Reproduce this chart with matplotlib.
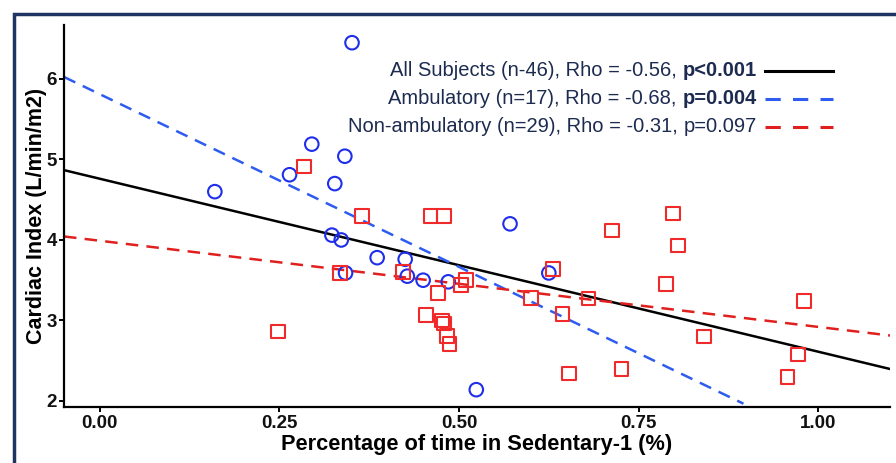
import numpy as np
import matplotlib
matplotlib.use("Agg")
import matplotlib.pyplot as plt
from matplotlib.patches import Rectangle
from matplotlib.lines import Line2D
from matplotlib.offsetbox import TextArea, HPacker, VPacker, DrawingArea, AnchoredOffsetbox

# ambulatory subjects (blue circles)
amb_x = [0.351, 0.295, 0.341, 0.264, 0.327, 0.160, 0.323, 0.336, 0.571, 0.386,
         0.425, 0.342, 0.428, 0.450, 0.485, 0.625, 0.524]
amb_y = [6.45, 5.19, 5.04, 4.81, 4.70, 4.60, 4.06, 4.00, 4.20, 3.78,
         3.76, 3.59, 3.55, 3.50, 3.48, 3.59, 2.14]

# non-ambulatory subjects (red squares)
non_x = [0.284, 0.365, 0.460, 0.479, 0.248, 0.334, 0.422, 0.510, 0.503, 0.471,
         0.454, 0.476, 0.479, 0.483, 0.487, 0.631, 0.600, 0.680, 0.644, 0.653,
         0.713, 0.798, 0.805, 0.788, 0.841, 0.726, 0.980, 0.972, 0.957]
non_y = [4.91, 4.30, 4.30, 4.30, 2.86, 3.59, 3.60, 3.50, 3.44, 3.34,
         3.07, 3.00, 2.96, 2.81, 2.71, 3.64, 3.28, 3.27, 3.08, 2.34,
         4.12, 4.33, 3.93, 3.45, 2.80, 2.40, 3.24, 2.58, 2.30]

# fitted lines: (x start, x end, intercept, slope)
fit_all = (-0.05, 1.10, 4.76, -2.148)
fit_amb = (-0.05, 0.896, 5.81, -4.29)
fit_non = (-0.05, 1.10, 3.99, -1.07)

xticks = [0.00, 0.25, 0.50, 0.75, 1.00]
yticks = [2, 3, 4, 5, 6]

legend_rows = [
    ("All Subjects (n-46), Rho = -0.56, ", "p<0.001", True),
    ("Ambulatory (n=17), Rho = -0.68, ", "p=0.004", True),
    ("Non-ambulatory (n=29), Rho = -0.31, ", "p=0.097", False),
]

blue = "#1f2eea"
red = "#f02a2a"
blue_line = "#2f5cf0"
red_line = "#e0201e"
navy = "#1c2b4f"

fig = plt.figure(figsize=(8.96, 4.63), dpi=100)
fig.patch.set_facecolor("white")
# dark frame around the panel
fig.patches.append(Rectangle((14 / 896, -0.1), 1.2, (463 - 14) / 463 + 0.1,
                             transform=fig.transFigure, fill=False,
                             edgecolor="#1f3462", linewidth=2.5, zorder=0))

ax = fig.add_axes([64 / 896, 1 - 407 / 463, (890 - 64) / 896, (407 - 25) / 463])
ax.set_xlim(-0.05, 1.10)
ax.set_ylim(1.925, 6.67)

def fit_line(f, **kw):
    xs = np.array([f[0], f[1]])
    ax.plot(xs, f[2] + f[3] * xs, **kw)

fit_line(fit_all, color="black", lw=1.8, zorder=2)
fit_line(fit_amb, color=blue_line, lw=1.8, dashes=(5, 3.3), zorder=2)
fit_line(fit_non, color=red_line, lw=1.8, dashes=(5, 3.3), zorder=2)

ax.scatter(amb_x, amb_y, s=95, facecolors="none", edgecolors=blue, linewidths=1.5, zorder=3)
ax.scatter(non_x, non_y, s=95, marker="s", facecolors="none", edgecolors=red, linewidths=1.5, zorder=3)

for s in ["top", "right"]:
    ax.spines[s].set_visible(False)
for s in ["left", "bottom"]:
    ax.spines[s].set_linewidth(1.6)

ax.set_xticks(xticks)
ax.set_xticklabels(["%.2f" % v for v in xticks])
ax.set_yticks(yticks)
ax.tick_params(width=1.4, length=3.5, labelsize=13.5, pad=2)
ax.tick_params(axis="y", pad=1.5)
for lab in ax.get_xticklabels() + ax.get_yticklabels():
    lab.set_fontfamily(["Liberation Sans Narrow", "Liberation Sans"])
    lab.set_fontweight("bold")
    lab.set_color("#111111")

ax.set_xlabel("Percentage of time in Sedentary-1 (%)", fontsize=15.7, fontweight="bold",
              family=["Liberation Sans Narrow", "Liberation Sans"], labelpad=2)
ax.set_ylabel("Cardiac Index (L/min/m2)", fontsize=15.5, fontweight="bold",
              family="Liberation Sans", labelpad=0)

# legend built from text pieces so the p-values can be bold
styles = [dict(color="black"), dict(color=blue_line, dashes=(5, 4)), dict(color=red_line, dashes=(5, 4))]
rows = []
for (txt, pval, bold), st in zip(legend_rows, styles):
    t1 = TextArea(txt, textprops=dict(fontsize=14.5, color=navy, family="Liberation Sans"))
    t2 = TextArea(pval, textprops=dict(fontsize=14.5, color=navy, family="Liberation Sans",
                                       fontweight="bold" if bold else "normal"))
    words = HPacker(children=[t1, t2], align="baseline", pad=0, sep=0)
    da = DrawingArea(49, 10, 0, 0)
    da.add_artist(Line2D([0, 49], [5, 5], lw=2.2, **st))
    rows.append(HPacker(children=[words, da], align="center", pad=0, sep=6))
box = VPacker(children=rows, align="right", pad=0, sep=6.5)
anch = AnchoredOffsetbox(loc="upper right", child=box, frameon=False, pad=0,
                         bbox_to_anchor=(833 / 896, 1 - 61 / 463),
                         bbox_transform=fig.transFigure, borderpad=0)
ax.add_artist(anch)

fig.savefig("out.png", dpi=100)
